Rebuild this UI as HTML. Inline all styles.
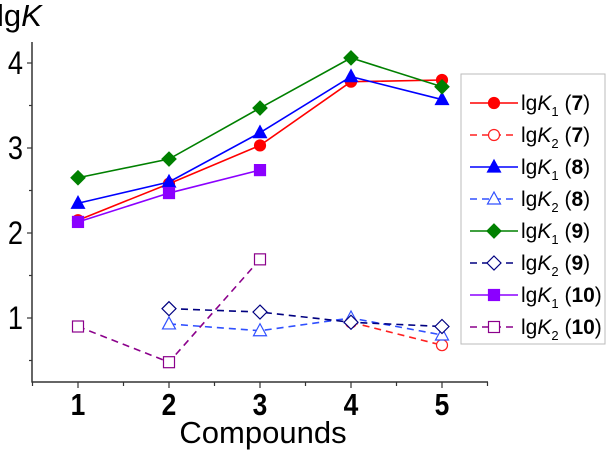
<!DOCTYPE html>
<html><head><meta charset="utf-8"><style>
body{margin:0;background:#fff;}
svg{display:block;font-family:"Liberation Sans",sans-serif;}
</style></head><body>
<svg id="chart" width="606" height="453">
<g id="axes"></g>
<g id="series"></g>
<g id="legend"></g>
</svg>
<script>
const categories = [1, 2, 3, 4, 5];
const yTicks = [1, 2, 3, 4];
const lgK1_7 = [2.15, 2.58, 3.03, 3.78, 3.80];
const lgK2_7 = [null, null, null, 0.95, 0.68];
const lgK1_8 = [2.35, 2.60, 3.18, 3.84, 3.57];
const lgK2_8 = [null, 0.93, 0.85, 1.00, 0.80];
const lgK1_9 = [2.65, 2.87, 3.47, 4.06, 3.72];
const lgK2_9 = [null, 1.11, 1.07, 0.95, 0.90];
const lgK1_10 = [2.13, 2.47, 2.74, null, null];
const lgK2_10 = [0.90, 0.48, 1.69, null, null];
const seriesLabels = ["7","7","8","8","9","9","10","10"];

const NS = "http://www.w3.org/2000/svg";
function X(v){ return 32.5 + (v - 0.5) * 91; }
function Y(v){ return 403 - v * 85; }
function mk(tag, attrs, parent){
  const e = document.createElementNS(NS, tag);
  for (const k in attrs) e.setAttribute(k, attrs[k]);
  parent.appendChild(e); return e;
}
const axes = document.getElementById('axes');
const ser = document.getElementById('series');
const leg = document.getElementById('legend');

let a = mk('line', {x1:32, y1:42, x2:32, y2:382.5, stroke:'#333', 'stroke-width':1.5}, axes);


a = mk('line', {x1:31.5, y1:382, x2:488, y2:382, stroke:'#333', 'stroke-width':1.5}, axes);



for (let v = 0.5; v <= 4.01; v += 0.5) {
  const major = Math.abs(v - Math.round(v)) < 0.01;
  mk('line', {x1:32, x2: major ? 27 : 29, y1:Y(v), y2:Y(v), stroke:'#333', 'stroke-width':1.2}, axes);
}
yTicks.forEach(t => {
  const tx = mk('text', {x:0, y:0, 'text-anchor':'end', 'font-size':32, fill:'#000', transform:`translate(23,${Y(t)+11}) scale(0.85,1)`}, axes);
  tx.textContent = t;
  
  
});
for (let v = 0.5; v <= 5.51; v += 0.5) {
  const major = Math.abs(v - Math.round(v)) < 0.01 && v >= 1;
  mk('line', {x1:X(v), x2:X(v), y1:382, y2: major ? 388 : 386, stroke:'#333', 'stroke-width':1.2}, axes);
}
categories.forEach(c => {
  const tx = mk('text', {x:0, y:0, 'text-anchor':'middle', 'font-size':31, 'font-weight':'bold', fill:'#000', transform:`translate(${X(c)},415) scale(0.85,1)`}, axes);
  tx.textContent = c;
  
  
});
let t = mk('text', {x:263, y:443, 'text-anchor':'middle', 'font-size':31, fill:'#000'}, axes);
t.textContent = 'Compounds';


t = mk('text', {x:-3, y:26, 'font-size':31, fill:'#000'}, axes);
t.innerHTML = 'lg<tspan font-style="italic">K</tspan>';



const defs = [
  {d:lgK1_7, c:'#ff0000', dash:false, m:'circle', fill:true},
  {d:lgK2_7, c:'#ff2020', dash:true, m:'circle', fill:false},
  {d:lgK1_8, c:'#0000ff', dash:false, m:'tri', fill:true},
  {d:lgK2_8, c:'#3050ff', dash:true, m:'tri', fill:false},
  {d:lgK1_9, c:'#008000', dash:false, m:'diamond', fill:true},
  {d:lgK2_9, c:'#000080', dash:true, m:'diamond', fill:false},
  {d:lgK1_10, c:'#8b00ff', dash:false, m:'square', fill:true},
  {d:lgK2_10, c:'#8b008b', dash:true, m:'square', fill:false}
];
function marker(g, type, x, y, color, fill){
  const f = fill ? color : '#fff';
  let e;
  if (type === 'circle') e = mk('circle', {cx:x, cy:y, r:5.5}, g);
  else if (type === 'tri') e = mk('polygon', {points:`${x},${y-7} ${x-6.5},${y+5} ${x+6.5},${y+5}`}, g);
  else if (type === 'diamond') e = mk('polygon', {points:`${x},${y-7} ${x+7},${y} ${x},${y+7} ${x-7},${y}`}, g);
  else e = mk('rect', {x:x-5.5, y:y-5.5, width:11, height:11}, g);
  e.setAttribute('fill', f);
  e.setAttribute('stroke', color);
  e.setAttribute('stroke-width', 1.2);
  return e;
}
defs.forEach((s, i) => {
  const g = mk('g', {}, ser);
  
  
  let segs = [], cur = [];
  s.d.forEach((v, j) => {
    if (v === null) { if (cur.length) segs.push(cur); cur = []; }
    else cur.push([X(categories[j]), Y(v)]);
  });
  if (cur.length) segs.push(cur);
  segs.forEach(p => {
    const pl = mk('polyline', {points:p.map(q=>q.join(',')).join(' '), fill:'none', stroke:s.c, 'stroke-width':1.6}, g);
    if (s.dash) pl.setAttribute('stroke-dasharray', '7,5');
    p.forEach(q => {
      const m = marker(g, s.m, q[0], q[1], s.c, s.fill);
      
      
    });
  });
});

const box = mk('rect', {x:461, y:74, width:144, height:270, fill:'#fff', stroke:'#bbb', 'stroke-width':1}, leg);


defs.forEach((s, i) => {
  const y = 103 + i * 32;
  const g = mk('g', {}, leg);
  
  
  const ln = mk('line', {x1:470, x2:518, y1:y, y2:y, stroke:s.c, 'stroke-width':1.6}, g);
  if (s.dash) ln.setAttribute('stroke-dasharray', '7,5');
  marker(g, s.m, 494, y, s.c, s.fill);
  const tx = mk('text', {x:521, y:y+7, 'font-size':21, fill:'#000'}, g);
  tx.innerHTML = 'lg<tspan font-style="italic">K</tspan><tspan font-size="13" dy="6">' + (i%2+1) + '</tspan><tspan dy="-6"> (</tspan><tspan font-weight="bold">' + seriesLabels[i] + '</tspan>)';
});
</script>
</body></html>
